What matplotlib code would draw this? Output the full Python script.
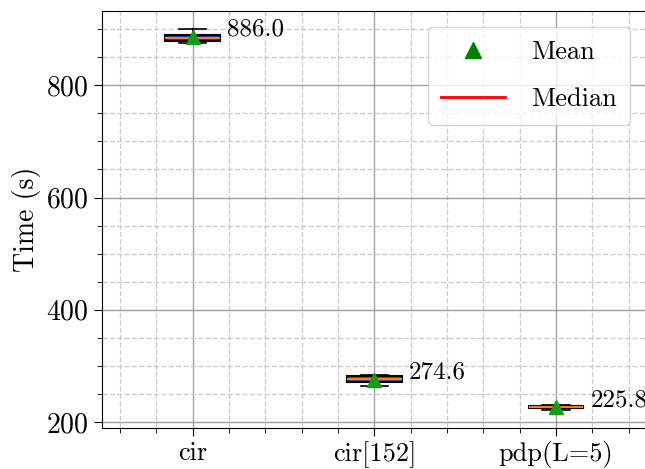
import matplotlib
matplotlib.use("Agg")
import matplotlib.pyplot as plt
from matplotlib.lines import Line2D
from matplotlib.ticker import MultipleLocator

plt.rcParams['font.family'] = ['cmr10', 'DejaVu Serif']
plt.rcParams['mathtext.fontset'] = 'cm'
plt.rcParams['axes.formatter.use_mathtext'] = True
plt.rcParams['font.size'] = 19

labels = ['cir', 'cir[152]', 'pdp(L=5)']
whislo = [876, 264, 221]
q1 = [880, 271, 224]
med = [885, 276, 227]
q3 = [890, 282, 229]
whishi = [901, 283, 230]
means = [886.0, 274.6, 225.8]
fills = ['#1a2fb0', '#1f5fb4', '#1f5fb4']

stats = []
for i in range(len(labels)):
    stats.append(dict(label=labels[i], whislo=whislo[i], q1=q1[i], med=med[i],
                      q3=q3[i], whishi=whishi[i], mean=means[i], fliers=[]))

fig = plt.figure(figsize=(6.45, 4.69), dpi=100)
ax = fig.add_axes([0.158, 0.087, 0.845, 0.89])

pos = [1, 2, 3]
bp = ax.bxp(stats, positions=pos, widths=0.3, showmeans=True, patch_artist=True,
            meanprops=dict(marker='^', markerfacecolor='#1a9a1a', markeredgecolor='#1a9a1a',
                           markersize=10),
            medianprops=dict(color='#ff7f0e', linewidth=1.5),
            boxprops=dict(linewidth=1.5), whiskerprops=dict(linewidth=1.2),
            capprops=dict(linewidth=1.2))
for patch, c in zip(bp['boxes'], fills):
    patch.set_facecolor(c)
    patch.set_edgecolor('black')

for p, m in zip(pos, means):
    ax.text(p + 0.19, m + 13, f'{m:.1f}', ha='left', va='center', fontsize=18)

ax.set_xlim(0.5, 3.5)
ax.set_ylim(188.7, 933)
ax.set_ylabel('Time (s)', fontsize=20)
ax.yaxis.set_major_locator(MultipleLocator(200))
ax.yaxis.set_minor_locator(MultipleLocator(50))
ax.xaxis.set_minor_locator(MultipleLocator(0.2))
ax.tick_params(which='major', length=6)
ax.tick_params(which='minor', length=3.5)
ax.tick_params(axis='y', labelsize=20)
ax.grid(True, which='major', color='#888888', linewidth=1, alpha=0.8)
ax.grid(True, which='minor', color='#cccccc', linestyle='--', linewidth=1)
ax.set_axisbelow(True)
ax.spines['right'].set_visible(False)

handles = [Line2D([], [], marker='^', color='green', linestyle='none', markersize=12),
           Line2D([], [], color='red', linewidth=2)]
ax.legend(handles, ['Mean', 'Median'], loc='upper right', bbox_to_anchor=(0.969, 0.961),
          borderaxespad=0, handlelength=2.4, borderpad=0.5, labelspacing=0.9,
          handletextpad=1.0, fontsize=19)

fig.savefig('out.png', dpi=100)
